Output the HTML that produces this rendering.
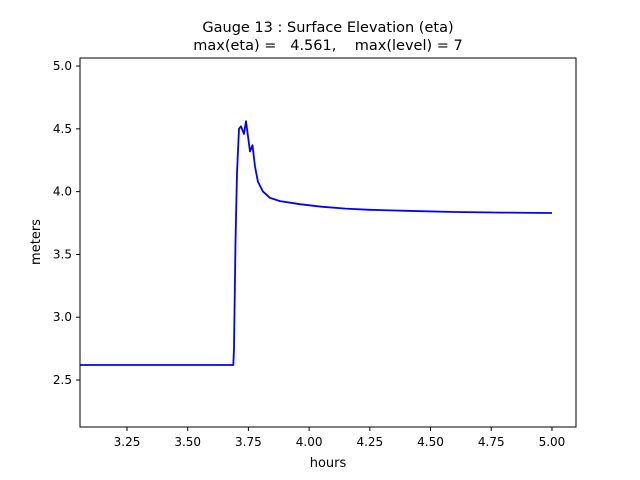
<!DOCTYPE html>
<html><head><meta charset="utf-8"><style>
body{margin:0;background:#fff;}
svg{display:block;font-family:"DejaVu Sans","Liberation Sans",sans-serif;}
</style></head><body>
<svg id="chart" width="640" height="480">
<rect width="640" height="480" fill="#fff"/>
<text x="328" y="32" text-anchor="middle" font-size="14.5">Gauge 13 : Surface Elevation (eta)</text>
<text x="328" y="50" text-anchor="middle" font-size="14.5" xml:space="preserve">max(eta) =   4.561,    max(level) = 7</text>
<g id="ticks"></g>
<path id="line" fill="none" stroke="#0000ff" stroke-width="1.8" stroke-linejoin="round"/>
<rect x="80" y="58" width="496" height="369" fill="none" stroke="#000" stroke-width="1"/>
<text x="328" y="467" text-anchor="middle" font-size="13">hours</text>
<text transform="translate(40,242) rotate(-90)" text-anchor="middle" font-size="13">meters</text>
</svg>
<script>
const hours=[3.0565,3.2,3.4,3.6,3.6876,3.6905,3.6967,3.7029,3.7111,3.7193,3.7317,3.7399,3.7564,3.7667,3.777,3.789,3.810,3.839,3.88,3.962,4.05,4.15,4.25,4.4,4.6,4.8,5.0];
const eta=[2.62,2.62,2.62,2.62,2.62,2.75,3.6,4.15,4.5,4.52,4.46,4.561,4.32,4.37,4.2,4.08,4.0,3.95,3.925,3.9,3.88,3.865,3.855,3.847,3.838,3.833,3.83];
const xTicks=[3.25,3.5,3.75,4.0,4.25,4.5,4.75,5.0];
const yTicks=[2.5,3.0,3.5,4.0,4.5,5.0];
const xmin=3.0565,xmax=5.099,ymin=2.126,ymax=5.064;
const X=v=>80+(v-xmin)/(xmax-xmin)*496;
const Y=v=>427-(v-ymin)/(ymax-ymin)*369;
const ns="http://www.w3.org/2000/svg";
const g=document.getElementById('ticks');
function mk(t,a){const e=document.createElementNS(ns,t);for(const k in a)e.setAttribute(k,a[k]);return e;}
xTicks.forEach(v=>{
 const l=mk('line',{x1:X(v),x2:X(v),y1:427,y2:431,stroke:'#000'});
 
 
 g.appendChild(l);
 const t=mk('text',{x:X(v),y:446,'text-anchor':'middle','font-size':12});
 
 
 t.textContent=v.toFixed(2);g.appendChild(t);
});
yTicks.forEach(v=>{
 const l=mk('line',{x1:76,x2:80,y1:Y(v),y2:Y(v),stroke:'#000'});
 
 
 g.appendChild(l);
 const t=mk('text',{x:72,y:Y(v)+4,'text-anchor':'end','font-size':12});
 
 
 t.textContent=v.toFixed(1);g.appendChild(t);
});
document.getElementById('line').setAttribute('d',hours.map((h,i)=>(i?'L':'M')+X(h).toFixed(1)+','+Y(eta[i]).toFixed(1)).join(''));
</script>
</body></html>
